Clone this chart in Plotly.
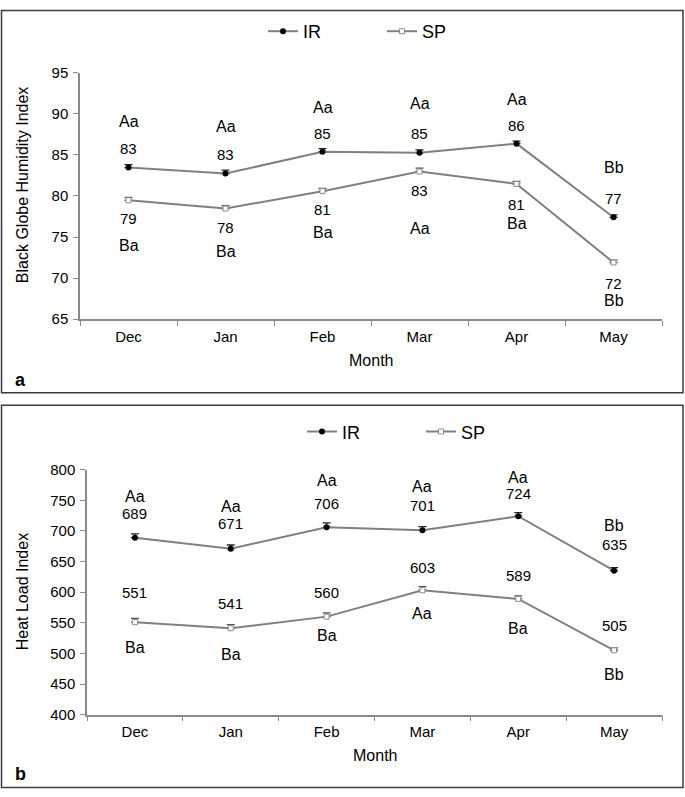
import plotly.graph_objects as go

months = ["Dec", "Jan", "Feb", "Mar", "Apr", "May"]

# panel a - black globe humidity index
bghi_ir = [83.45, 82.73, 85.36, 85.24, 86.36, 77.4]
bghi_sp = [79.47, 78.47, 80.58, 82.97, 81.46, 71.9]
bghi_ir_err = [0.35, 0.4, 0.4, 0.35, 0.3, 0.3]
bghi_sp_err = [0.35, 0.35, 0.35, 0.4, 0.3, 0.3]
bghi_ir_letters = ["Aa", "Aa", "Aa", "Aa", "Aa", "Bb"]
bghi_sp_letters = ["Ba", "Ba", "Ba", "Aa", "Ba", "Bb"]

# panel b - heat load index
hli_ir = [689, 671, 706, 701, 724, 635]
hli_sp = [551, 541, 560, 603, 589, 505]
hli_ir_err = [6, 6, 7, 6, 6, 5]
hli_sp_err = [6, 6, 6, 6, 5, 4]
hli_ir_letters = ["Aa", "Aa", "Aa", "Aa", "Aa", "Bb"]
hli_sp_letters = ["Ba", "Ba", "Ba", "Aa", "Ba", "Bb"]

# label placement (axis units)
a_pos = dict(ir_let=[89.1, 88.4, 90.8, 91.3, 91.7, 83.4],
             ir_num=[85.8, 85.0, 87.6, 87.6, 88.6, 79.7],
             sp_num=[77.2, 76.1, 78.3, 80.7, 79.0, 69.4],
             sp_let=[74.0, 73.3, 75.6, 76.0, 76.6, 67.3])
b_pos = dict(ir_let=[756, 740, 782, 772, 787, 708],
             ir_num=[728, 712, 744, 742, 761, 677],
             sp_num=[600, 582, 600, 641, 627, 545],
             sp_let=[509, 498, 530, 565, 541, 466])

W, H = 685, 797
FONT = "Liberation Sans, Arial, sans-serif"
LINE = "#808080"
AXIS = "#8a8a8a"


def px(x):
    return x / W


def py(y):
    return 1 - y / H


fig = go.Figure()

for xa, ya, leg, ir, sp, ire, spe in [
    ("x", "y", "legend", bghi_ir, bghi_sp, bghi_ir_err, bghi_sp_err),
    ("x2", "y2", "legend2", hli_ir, hli_sp, hli_ir_err, hli_sp_err),
]:
    fig.add_trace(go.Scatter(
        x=months, y=ir, name="IR", mode="lines+markers",
        line=dict(color=LINE, width=2),
        marker=dict(symbol="circle", size=6, color="black"),
        error_y=dict(type="data", array=ire, arrayminus=[0] * 6, symmetric=False,
                     color="#222222", thickness=1.3, width=4),
        xaxis=xa, yaxis=ya, legend=leg))
    fig.add_trace(go.Scatter(
        x=months, y=sp, name="SP", mode="lines+markers",
        line=dict(color=LINE, width=2),
        marker=dict(symbol="square", size=5, color="white",
                    line=dict(color="#8c8c8c", width=1)),
        error_y=dict(type="data", array=spe, arrayminus=[0] * 6, symmetric=False,
                     color="#555555", thickness=1.3, width=4),
        xaxis=xa, yaxis=ya, legend=leg))

annotations = []


def add_labels(xr, yr, ir, sp, ir_let, sp_let, pos):
    for i, m in enumerate(months):
        items = [
            (ir_let[i], pos["ir_let"][i], 16),
            (f"{ir[i]:.0f}", pos["ir_num"][i], 15),
            (f"{sp[i]:.0f}", pos["sp_num"][i], 15),
            (sp_let[i], pos["sp_let"][i], 16),
        ]
        for txt, y, size in items:
            annotations.append(dict(x=m, y=y, xref=xr, yref=yr, text=txt,
                                    xanchor="center", yanchor="middle",
                                    showarrow=False, font=dict(size=size, color="black")))


add_labels("x", "y", bghi_ir, bghi_sp, bghi_ir_letters, bghi_sp_letters, a_pos)
add_labels("x2", "y2", hli_ir, hli_sp, hli_ir_letters, hli_sp_letters, b_pos)

# axis titles and panel letters
for txt, x, y, angle, size, bold in [
    ("Black Globe Humidity Index", 22, 180, -90, 16, False),
    ("Month", 371, 359, 0, 16, False),
    ("a", 20, 379, 0, 18, True),
    ("Heat Load Index", 22, 596, -90, 16, False),
    ("Month", 375, 763, 0, 16, False),
    ("b", 20, 782, 0, 18, True),
]:
    annotations.append(dict(x=px(x), y=py(y), xref="paper", yref="paper",
                            xanchor="center", yanchor="middle",
                            text=f"<b>{txt}</b>" if bold else txt, textangle=angle,
                            showarrow=False, font=dict(size=size, color="black")))

xaxis_style = dict(type="category", range=[-0.5, 5.5], showline=True, linecolor=AXIS,
                   linewidth=1.5, ticks="outside", tickson="boundaries", ticklen=5,
                   tickcolor=AXIS, tickwidth=1.2, showgrid=False, zeroline=False,
                   ticklabelstandoff=3, tickfont=dict(size=15, color="black"))
yaxis_style = dict(showline=True, linecolor=AXIS, linewidth=1.5, ticks="outside",
                   ticklen=5, tickcolor=AXIS, tickwidth=1.2, showgrid=False,
                   zeroline=False, ticklabelstandoff=2, tickfont=dict(size=15, color="black"))

legend_style = dict(orientation="h", xanchor="left", yanchor="middle",
                    font=dict(size=18, color="black"), bgcolor="rgba(0,0,0,0)",
                    entrywidth=74, entrywidthmode="pixels", itemwidth=30)

fig.update_layout(
    width=W, height=H,
    margin=dict(l=0, r=0, t=0, b=0),
    paper_bgcolor="white", plot_bgcolor="white",
    font=dict(family=FONT, color="black"),
    showlegend=True,
    xaxis=dict(domain=[px(80), px(662)], anchor="y", **xaxis_style),
    yaxis=dict(domain=[py(317), py(65)], anchor="x", range=[65, 95], dtick=5, **yaxis_style),
    xaxis2=dict(domain=[px(87), px(662)], anchor="y2", **xaxis_style),
    yaxis2=dict(domain=[py(721), py(470.7)], anchor="x2", range=[400, 800], dtick=50, **yaxis_style),
    legend=dict(x=px(263), y=py(23), **legend_style),
    legend2=dict(x=px(302), y=py(432), **legend_style),
    annotations=annotations,
    shapes=[
        dict(type="rect", xref="paper", yref="paper", x0=px(1.5), x1=px(683), y0=py(392), y1=py(1.5),
             line=dict(color="#3c3c3c", width=1.5)),
        dict(type="rect", xref="paper", yref="paper", x0=px(1.5), x1=px(683), y0=py(795.5), y1=py(405),
             line=dict(color="#3c3c3c", width=1.5)),
    ],
)

fig.write_html("out.html", config={"displayModeBar": False},
               post_script="document.body.style.margin='0';")
